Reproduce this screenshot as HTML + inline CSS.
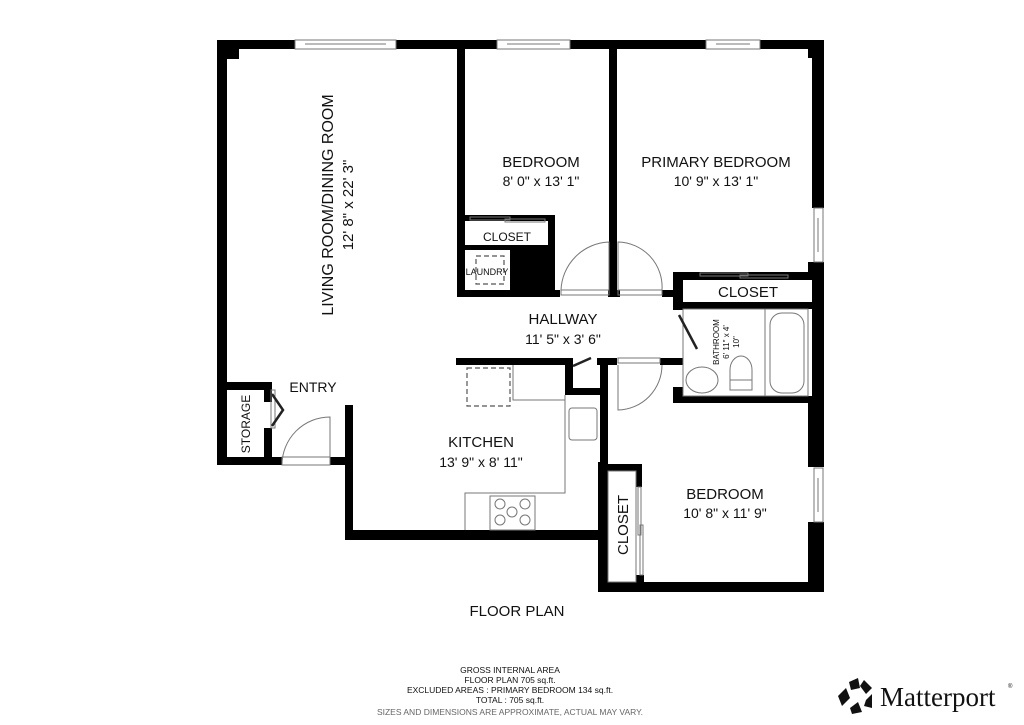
<!DOCTYPE html>
<html><head><style>
html,body{margin:0;padding:0;background:#fff;}
svg{display:block;}
text{font-family:"Liberation Sans","DejaVu Sans",sans-serif;fill:#111;}
</style></head><body>
<svg width="1024" height="725" viewBox="0 0 1024 725">
<g fill="#000">
<rect x="217" y="40" width="607" height="9"/>
<rect x="217" y="40" width="22" height="19"/>
<rect x="808" y="40" width="16" height="18"/>
<rect x="217" y="40" width="10" height="425"/>
<rect x="217" y="382" width="55" height="8"/>
<rect x="264" y="382" width="8" height="20"/>
<rect x="264" y="428" width="8" height="37"/>
<rect x="217" y="457" width="65" height="8"/>
<rect x="330" y="457" width="22" height="8"/>
<rect x="345" y="405" width="8" height="135"/>
<rect x="345" y="530" width="263" height="10"/>
<rect x="457" y="40" width="8" height="257"/>
<rect x="609" y="40" width="8" height="257"/>
<rect x="463" y="215" width="92" height="6"/>
<rect x="463" y="245" width="92" height="5"/>
<rect x="548" y="215" width="7" height="82"/>
<rect x="510" y="245" width="45" height="52"/>
<rect x="457" y="290" width="103" height="7"/>
<rect x="608" y="290" width="12" height="7"/>
<rect x="662" y="290" width="20" height="7"/>
<rect x="673" y="272" width="151" height="8"/>
<rect x="673" y="272" width="10" height="38"/>
<rect x="673" y="302" width="151" height="7"/>
<rect x="673" y="387" width="10" height="16"/>
<rect x="673" y="396" width="151" height="7"/>
<rect x="812" y="40" width="12" height="168"/>
<rect x="812" y="262" width="12" height="205"/>
<rect x="808" y="262" width="16" height="10"/>
<rect x="808" y="400" width="16" height="67"/>
<rect x="808" y="522" width="16" height="70"/>
<rect x="456" y="358" width="115" height="7"/>
<rect x="597" y="358" width="20" height="7"/>
<rect x="660" y="358" width="23" height="7"/>
<rect x="565" y="358" width="8" height="37"/>
<rect x="565" y="388" width="43" height="7"/>
<rect x="600" y="358" width="8" height="106"/>
<rect x="598" y="462" width="10" height="130"/>
<rect x="598" y="464" width="44" height="7"/>
<rect x="636" y="464" width="6" height="23"/>
<rect x="598" y="582" width="226" height="10"/>
<rect x="636" y="575" width="8" height="10"/>
</g>
<g fill="#fff" stroke="#777" stroke-width="1">
<rect x="295" y="40" width="101" height="9"/>
<rect x="497" y="40" width="73" height="9"/>
<rect x="706" y="40" width="54" height="9"/>
<rect x="814" y="208" width="9" height="54"/>
<rect x="814" y="468" width="9" height="54"/>
</g>
<g stroke="#777" stroke-width="1" fill="none">
<line x1="305" y1="44" x2="386" y2="44"/><line x1="507" y1="44" x2="560" y2="44"/><line x1="716" y1="44" x2="750" y2="44"/>
<line x1="818" y1="218" x2="818" y2="252"/><line x1="818" y1="478" x2="818" y2="512"/>
<path d="M561 290 A50 50 0 0 1 609 242 L609 290 Z" />
<path d="M618 290 L618 242 A45 45 0 0 1 662 290"/>
<path d="M618 365 L618 410 A45 45 0 0 0 662 365"/>
<path d="M282 465 A48 48 0 0 1 330 417 L330 465"/>
<rect x="282" y="457" width="48" height="8"/>
<rect x="561" y="290" width="48" height="5"/>
<rect x="618" y="290" width="44" height="5"/>
<rect x="618" y="358" width="42" height="5"/>
<rect x="470" y="217" width="40" height="3"/><rect x="505" y="219" width="40" height="3"/>
<rect x="700" y="273" width="48" height="3"/><rect x="740" y="275" width="48" height="3"/>
<rect x="638" y="487" width="3" height="48"/><rect x="640" y="525" width="3" height="50"/>
<polyline points="513,365 513,400 565,400"/>
<polyline points="565,395 565,493 465,493 465,530"/>
<rect x="569" y="408" width="28" height="32" rx="3"/>
<rect x="490" y="496" width="45" height="34"/>
<circle cx="500" cy="504" r="5"/><circle cx="525" cy="504" r="5"/><circle cx="512" cy="512" r="5"/><circle cx="500" cy="520" r="5"/><circle cx="525" cy="520" r="5"/>
<rect x="683" y="309" width="125" height="87"/>
<line x1="765" y1="309" x2="765" y2="396"/>
<rect x="770" y="313" width="34" height="80" rx="12"/>
<ellipse cx="702" cy="380" rx="16" ry="13"/>
<path d="M730 390 L730 370 A11 14 0 0 1 752 370 L752 390 Z"/>
<line x1="730" y1="380" x2="752" y2="380"/>
<rect x="608" y="471" width="28" height="111"/>
<rect x="271" y="390" width="4" height="38"/>
</g>
<g stroke="#555" stroke-width="1.2" fill="none" stroke-dasharray="5,3">
<rect x="476" y="256" width="28" height="28"/>
<rect x="467" y="368" width="43" height="38"/>
</g>
<g stroke="#222" stroke-width="2.5" fill="none">
<line x1="679" y1="315" x2="697" y2="349"/>
<polyline points="272,394 283,410 272,426"/>
<line x1="573" y1="366" x2="591" y2="358"/>
</g>
<text x="0" y="0" font-size="16" text-anchor="middle" transform="translate(333,205) rotate(-90)">LIVING ROOM/DINING ROOM</text>
<text x="0" y="0" font-size="15" text-anchor="middle" transform="translate(353,205) rotate(-90)">12' 8" x 22' 3"</text>
<text x="541" y="167" font-size="15" text-anchor="middle">BEDROOM</text>
<text x="541" y="186" font-size="14" text-anchor="middle">8' 0" x 13' 1"</text>
<text x="716" y="167" font-size="15" text-anchor="middle">PRIMARY BEDROOM</text>
<text x="716" y="186" font-size="14" text-anchor="middle">10' 9" x 13' 1"</text>
<text x="507" y="241" font-size="12" text-anchor="middle">CLOSET</text>
<text x="487" y="275" font-size="9" text-anchor="middle">LAUNDRY</text>
<text x="748" y="297" font-size="15" text-anchor="middle">CLOSET</text>
<text x="563" y="324" font-size="15" text-anchor="middle">HALLWAY</text>
<text x="563" y="344" font-size="14" text-anchor="middle">11' 5" x 3' 6"</text>
<text font-size="8" text-anchor="middle" transform="translate(719,342) rotate(-90)">BATHROOM</text>
<text font-size="8" text-anchor="middle" transform="translate(729,342) rotate(-90)">6' 11" x 4'</text>
<text font-size="8" text-anchor="middle" transform="translate(739,342) rotate(-90)">10"</text>
<text x="313" y="392" font-size="14" text-anchor="middle">ENTRY</text>
<text font-size="12" text-anchor="middle" transform="translate(250,424) rotate(-90)">STORAGE</text>
<text x="481" y="447" font-size="15" text-anchor="middle">KITCHEN</text>
<text x="481" y="467" font-size="14" text-anchor="middle">13' 9" x 8' 11"</text>
<text x="725" y="499" font-size="15" text-anchor="middle">BEDROOM</text>
<text x="725" y="518" font-size="14" text-anchor="middle">10' 8" x 11' 9"</text>
<text font-size="15" text-anchor="middle" transform="translate(628,525) rotate(-90)">CLOSET</text>
<text x="517" y="616" font-size="15" text-anchor="middle">FLOOR PLAN</text>
<g font-size="8.5" text-anchor="middle">
<text x="510" y="673">GROSS INTERNAL AREA</text>
<text x="510" y="683">FLOOR PLAN 705 sq.ft.</text>
<text x="510" y="693">EXCLUDED AREAS :  PRIMARY BEDROOM 134 sq.ft.</text>
<text x="510" y="703">TOTAL :  705 sq.ft.</text>
<text x="510" y="715" style="fill:#666">SIZES AND DIMENSIONS ARE APPROXIMATE, ACTUAL MAY VARY.</text>
</g>
<g fill="#111">
<polygon points="849,682 858,678 860,688 851,690"/>
<polygon points="864,680 872,688 866,694 860,686"/>
<polygon points="838,696 846,688 850,698 842,706"/>
<polygon points="866,700 872,694 872,708 864,706"/>
<polygon points="850,708 858,702 862,712 852,714"/>
</g>
<text x="880" y="706" style="font-family:'Liberation Serif',serif;font-size:27px">Matterport</text>
<text x="1008" y="688" font-size="6">®</text>
</svg>
</body></html>
